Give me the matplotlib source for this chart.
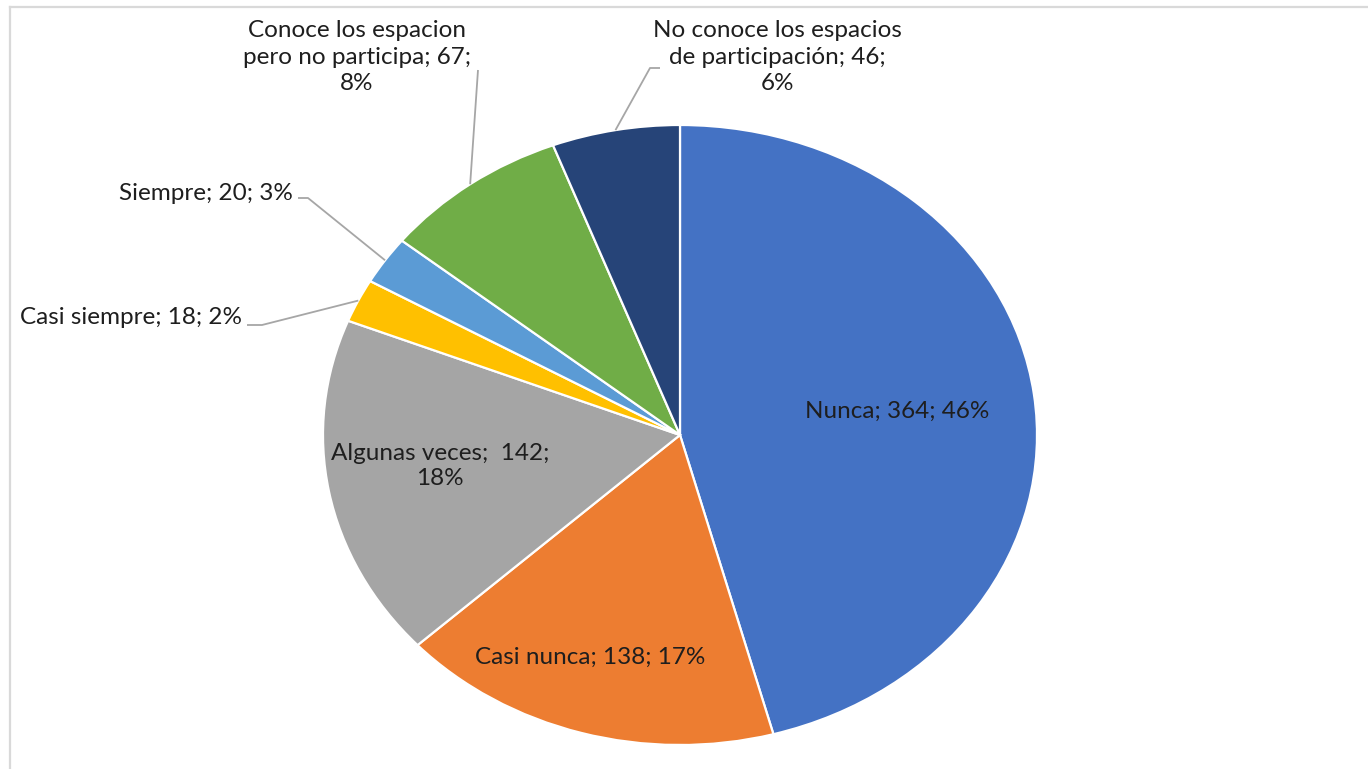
import numpy as np
import matplotlib
matplotlib.use('Agg')
import matplotlib.pyplot as plt
from matplotlib.lines import Line2D

plt.rcParams['font.family'] = ['Lato', 'DejaVu Sans']

# Data
categories = ['Nunca', 'Casi nunca', 'Algunas veces', 'Casi siempre', 'Siempre',
              'Conoce los espacion pero no participa',
              'No conoce los espacios de participación']
counts = [364, 138, 142, 18, 20, 67, 46]
colors = ['#4472C4', '#ED7D31', '#A5A5A5', '#FFC000', '#5B9BD5', '#70AD47', '#264478']

W, H = 1368, 769
cx, cy = 680, 435      # pie centre in pixels (from top)
rx, ry = 357, 310      # the source picture is stretched horizontally

fig = plt.figure(figsize=(W / 100, H / 100), dpi=100, facecolor='white')
ax = fig.add_axes([0, 0, 1, 1])

wedges, _ = ax.pie(counts, colors=colors, startangle=90, counterclock=False,
                   wedgeprops=dict(edgecolor='white', linewidth=1.6))
ax.set_aspect('auto')
ax.set_xlim(-cx / rx, (W - cx) / rx)
ax.set_ylim(-(H - cy) / ry, cy / ry)
ax.axis('off')


def px(x, y):
    # pixel position (y from top) -> data coords
    return (x - cx) / rx, (cy - y) / ry


total = sum(counts)
pct = [round(100 * c / total) for c in counts]
txt = '#1e1e1e'
fs = 17.5

# labels inside the wedges
ax.text(*px(897, 411), f'{categories[0]}; {counts[0]}; {pct[0]}%', ha='center', va='center',
        fontsize=fs, color=txt)
ax.text(*px(590, 657), f'{categories[1]}; {counts[1]}; {pct[1]}%', ha='center', va='center',
        fontsize=fs, color=txt)
ax.text(*px(440, 466), f'{categories[2]};  {counts[2]};\n{pct[2]}%', ha='center', va='center',
        fontsize=fs, color=txt, linespacing=1.25)

# labels outside with leader lines
ax.text(*px(242, 318), f'{categories[3]}; {counts[3]}; {pct[3]}%', ha='right', va='center',
        fontsize=fs, color=txt)
ax.text(*px(293, 193), f'{categories[4]}; {counts[4]}; {pct[4]}%', ha='right', va='center',
        fontsize=fs, color=txt)
ax.text(*px(357, 57), f'Conoce los espacion\npero no participa; {counts[5]};\n{pct[5]}%',
        ha='center', va='center', fontsize=fs, color=txt, linespacing=1.35)
ax.text(*px(777, 57), f'No conoce los espacios\nde participación; {counts[6]};\n{pct[6]}%',
        ha='center', va='center', fontsize=fs, color=txt, linespacing=1.35)

leaders = {3: [(247, 325), (262, 325)],
           4: [(298, 198), (308, 198)],
           5: [(478, 70)],
           6: [(660, 68), (650, 68)]}
for i, pts in leaders.items():
    w = wedges[i]
    mid = np.deg2rad((w.theta1 + w.theta2) / 2)
    xs = [px(*p)[0] for p in pts] + [np.cos(mid)]
    ys = [px(*p)[1] for p in pts] + [np.sin(mid)]
    ax.plot(xs, ys, color='#A6A6A6', linewidth=1.3, solid_capstyle='butt')

# chart frame (only left and top edges fall inside the crop)
fig.add_artist(Line2D([10 / W, 10 / W], [0, 1 - 7 / H], color='#D9D9D9', linewidth=1.6,
                      transform=fig.transFigure))
fig.add_artist(Line2D([10 / W, 1], [1 - 7 / H, 1 - 7 / H], color='#D9D9D9', linewidth=1.6,
                      transform=fig.transFigure))

fig.savefig('out.png', dpi=100, facecolor='white')
